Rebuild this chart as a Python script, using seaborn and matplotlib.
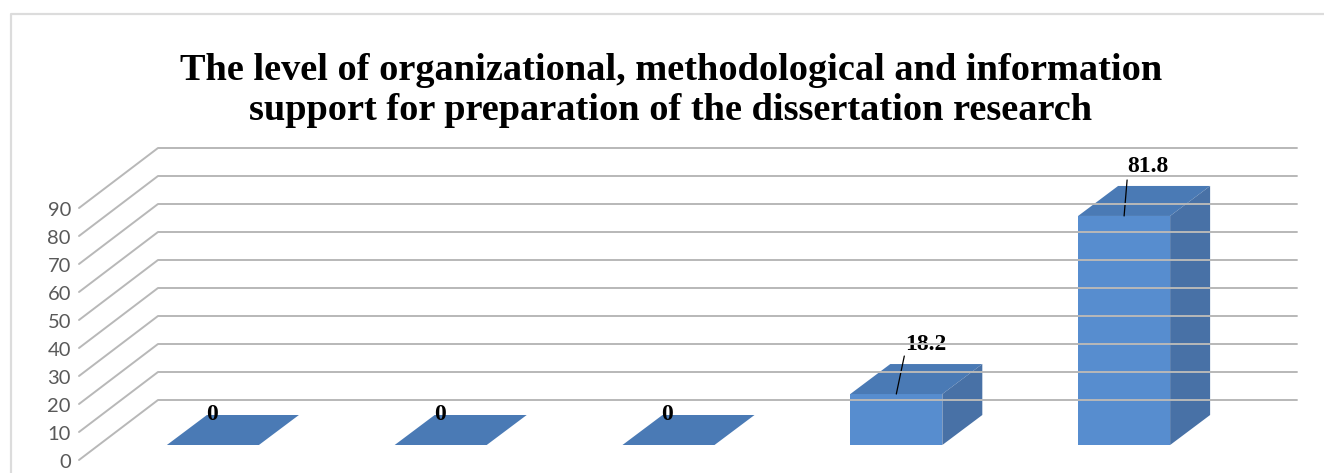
import seaborn as sns
import matplotlib.pyplot as plt
from matplotlib.lines import Line2D
import pandas as pd

# --- chart data ---
categories = ["A", "B", "C", "D", "E"]
values = [0, 0, 0, 18.2, 81.8]
value_labels = ["0", "0", "0", "18.2", "81.8"]
y_ticks = [0, 10, 20, 30, 40, 50, 60, 70, 80, 90]
title_text = ("The level of organizational, methodological and information\n"
              "support for preparation of the dissertation research")

W, H = 1324, 473

# fake 3D depth, pixels (bars sit in the middle of the floor)
DEPTH_X, DEPTH_Y = 40, 30
WALL_X, WALL_Y = 59, 45
FLOOR_X, FLOOR_Y = -20, -15

FRONT = "#578dcf"
TOP = "#4a7ab5"
SIDE = "#4871a6"
GRID = "#b8b8b8"

sns.set_theme(style="white")
plt.rcParams["font.family"] = "Liberation Serif"

fig = plt.figure(figsize=(W / 100, H / 100), dpi=100)
# front plane of the bars: 99..1238 px wide, value 0 at y=445 px, 90 at y=193 px
ax = fig.add_axes([99 / W, (H - 445) / H, (1238 - 99) / W, 252 / H])

df = pd.DataFrame({"category": categories, "value": values})
sns.barplot(data=df, x="category", y="value", color=FRONT, saturation=1,
            width=0.404, linewidth=0, ax=ax, zorder=3)
ax.set_xlim(-0.5, 4.5)
ax.set_ylim(0, 90)
ax.set_xlabel("")
ax.set_ylabel("")
ax.set_xticks([])
ax.set_yticks([])
sns.despine(ax=ax, left=True, bottom=True)
ax.patch.set_alpha(0)


def px(x, v, dx=0, dy=0):
    # data position to display pixels, with a depth shift
    a, b = ax.transData.transform((x, v))
    return a + dx, b + dy


# gridlines: floor side going back, then along the back wall
for v in y_ticks:
    p0 = px(-0.5, v, FLOOR_X, FLOOR_Y)
    p1 = px(-0.5, v, WALL_X, WALL_Y)
    p2 = px(4.5, v, WALL_X, WALL_Y)
    fig.add_artist(Line2D([p0[0], p1[0], p2[0]], [p0[1], p1[1], p2[1]],
                          transform=None, color=GRID, lw=1.4, zorder=1))
    ax.text(p0[0] - 8, p0[1] - 2.5, str(v), transform=None, ha="right", va="center",
            fontsize=14.5, family="Lato", color="#595959", clip_on=False)

# top and side faces of each bar
label_offsets = [(-1, 31), (-1, 31), (-1, 31), (29, 50), (24, 49)]
leader_offsets = [None, None, None, (8, 38), (3, 36)]
for bar, val, txt, off, lead in zip(ax.patches, values, value_labels, label_offsets, leader_offsets):
    x0, x1 = bar.get_x(), bar.get_x() + bar.get_width()
    top = [px(x0, val), px(x1, val), px(x1, val, DEPTH_X, DEPTH_Y), px(x0, val, DEPTH_X, DEPTH_Y)]
    ax.fill([p[0] for p in top], [p[1] for p in top], color=TOP, lw=0,
            transform=None, zorder=4, clip_on=False)
    if val > 0:
        side = [px(x1, 0), px(x1, val), px(x1, val, DEPTH_X, DEPTH_Y), px(x1, 0, DEPTH_X, DEPTH_Y)]
        ax.fill([p[0] for p in side], [p[1] for p in side], color=SIDE, lw=0,
                transform=None, zorder=4, clip_on=False)
    xc = (x0 + x1) / 2
    ax.annotate(txt, xy=(xc, val), xytext=off, textcoords="offset pixels",
                ha="center", va="center", fontsize=17, fontweight="bold",
                color="black", zorder=6, annotation_clip=False)
    if lead is not None:
        # leader line from the bar top to its label
        ax.annotate("", xy=(xc, val), xytext=lead, textcoords="offset pixels",
                    zorder=6, annotation_clip=False,
                    arrowprops=dict(arrowstyle="-", color="black", lw=0.9,
                                    shrinkA=0, shrinkB=0))

# chart frame, open on the right and at the bottom
fig.add_artist(Line2D([10.5 / W, 10.5 / W, 1], [0, (H - 14.5) / H, (H - 14.5) / H],
                      transform=fig.transFigure, color="#dcdcdc", lw=1.6))

fig.text(671 / W, (H - 90.5) / H, title_text, ha="center", va="center",
         fontsize=27.6, fontweight="bold", color="black", linespacing=1.2)

fig.savefig("out.png", dpi=100, facecolor="white")
